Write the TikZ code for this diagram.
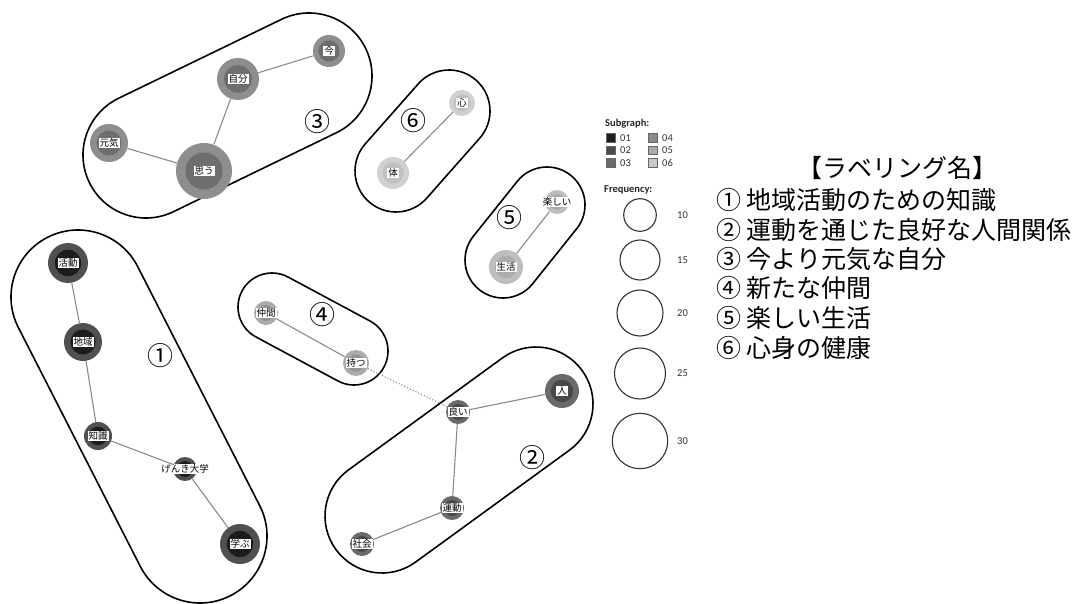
\documentclass[tikz,border=0pt]{standalone}
\usepackage{fontspec}
\setmainfont{Carlito}
\newfontfamily\jp{Noto Sans CJK JP}
\usetikzlibrary{calc}
\definecolor{o1}{HTML}{505050}\definecolor{i1}{HTML}{1C1C1C}
\definecolor{o2}{HTML}{6A6A6A}\definecolor{i2}{HTML}{484848}
\definecolor{o3}{HTML}{8E8E8E}\definecolor{i3}{HTML}{6E6E6E}
\definecolor{o4}{HTML}{ABABAB}\definecolor{i4}{HTML}{939393}
\definecolor{o5}{HTML}{BEBEBE}\definecolor{i5}{HTML}{ACACAC}
\definecolor{o6}{HTML}{D0D0D0}\definecolor{i6}{HTML}{C0C0C0}
\definecolor{s1}{HTML}{1E1E1E}\definecolor{s2}{HTML}{4A4A4A}
\definecolor{s3}{HTML}{6C6C6C}\definecolor{s4}{HTML}{8C8C8C}
\definecolor{s5}{HTML}{ABABAB}\definecolor{s6}{HTML}{C8C8C8}
\definecolor{edgegray}{HTML}{8A8A8A}
\tikzset{
  clus/.style={draw=black, line width=1.6pt},
  lab/.style={fill=white, inner sep=1pt, text=black, font=\jp\fontsize{9.5}{10}\selectfont},
  kedge/.style={draw=edgegray, line width=1.1pt},
  dedge/.style={draw=edgegray, line width=1.1pt, dotted},
  cnum/.style={font=\jp\fontsize{26}{27}\selectfont, inner sep=0pt},
  legsq/.style={draw=black!60, line width=0.5pt, minimum size=8.5pt, inner sep=0pt},
  legtxt/.style={font=\fontsize{10.5}{11}\selectfont, inner sep=0pt, anchor=west, text=black!80},
  freqc/.style={circle, draw=black!80, line width=1.1pt, inner sep=0pt},
  rtxt/.style={font=\jp\fontsize{25}{27}\selectfont, inner sep=0pt, anchor=west}
}
% keyword node: name, x, y, r, subgraph, label
\newcommand\kw[6]{%
  \node[circle, fill=o#5, minimum size=#4*2pt, inner sep=0pt] (#1) at (#2,-#3) {};
  \fill[i#5] (#1.center) circle[radius=#4*0.66pt];
  \node[lab] at (#1.center) {#6};}
% stadium: A, B, r
\newcommand\stad[3]{%
  \draw[clus] let \p1=(#1), \p2=(#2), \n1={atan2(\y2-\y1,\x2-\x1)} in
    ($(\p1)+(\n1+90:#3pt)$) -- ($(\p2)+(\n1+90:#3pt)$)
    arc[start angle=\n1+90, delta angle=-180, radius=#3pt]
    -- ($(\p1)+(\n1-90:#3pt)$)
    arc[start angle=\n1-90, delta angle=-180, radius=#3pt] -- cycle;}
\begin{document}
\begin{tikzpicture}[x=1pt,y=1pt]
\useasboundingbox[fill=white] (0,0) rectangle (1083,-604);
% cluster outlines
\coordinate (s1a) at (78,-297);  \coordinate (s1b) at (200,-536);
\coordinate (s2a) at (382,-516); \coordinate (s2b) at (536,-404);
\coordinate (s3a) at (146,-155); \coordinate (s3b) at (309,-76);
\coordinate (s4a) at (272,-307); \coordinate (s4b) at (354,-351);
\coordinate (s5a) at (503,-260); \coordinate (s5b) at (547,-205);
\coordinate (s6a) at (396,-171); \coordinate (s6b) at (449,-111);
\stad{s1a}{s1b}{67}
\stad{s2a}{s2b}{57}
\stad{s3a}{s3b}{63}
\stad{s4a}{s4b}{34}
\stad{s5a}{s5b}{38}
\stad{s6a}{s6b}{41}
% nodes
\kw{katsudo}{68}{263}{20}{1}{活動}
\kw{chiiki}{83}{342}{19}{1}{地域}
\kw{chishiki}{98}{436}{14}{1}{知識}
\kw{genkidai}{185}{469}{12}{1}{げんき大学}
\kw{manabu}{240}{544}{20}{1}{学ぶ}
\kw{yoi}{458}{412}{12}{2}{良い}
\kw{hito}{562}{391}{17}{2}{人}
\kw{undo}{452}{508}{12}{2}{運動}
\kw{shakai}{362}{544}{12}{2}{社会}
\kw{ima}{329}{51}{16}{3}{今}
\kw{jibun}{238}{79}{21}{3}{自分}
\kw{genki}{109}{143}{19}{3}{元気}
\kw{omou}{204}{171}{28}{3}{思う}
\kw{nakama}{266}{313}{12}{4}{仲間}
\kw{motsu}{356}{363}{13}{4}{持つ}
\kw{tanoshii}{557}{202}{12}{5}{楽しい}
\kw{seikatsu}{506}{267}{17}{5}{生活}
\kw{kokoro}{462}{103}{13}{6}{心}
\kw{karada}{393}{173}{16}{6}{体}
% edges
\draw[kedge] (katsudo) -- (chiiki);
\draw[kedge] (chiiki) -- (chishiki);
\draw[kedge] (chishiki) -- (genkidai);
\draw[kedge] (genkidai) -- (manabu);
\draw[kedge] (yoi) -- (hito);
\draw[kedge] (yoi) -- (undo);
\draw[kedge] (undo) -- (shakai);
\draw[kedge] (ima) -- (jibun);
\draw[kedge] (jibun) -- (omou);
\draw[kedge] (genki) -- (omou);
\draw[kedge] (nakama) -- (motsu);
\draw[kedge] (tanoshii) -- (seikatsu);
\draw[kedge] (kokoro) -- (karada);
\draw[dedge] (motsu) -- (yoi);
% cluster numbers
\node[cnum] (n1) at (160,-356) {①};
\node[cnum] (n2) at (532,-458) {②};
\node[cnum] (n3) at (317,-122) {③};
\node[cnum] (n4) at (322,-315) {④};
\node[cnum] (n5) at (509,-218) {⑤};
\node[cnum] (n6) at (413,-121) {⑥};
% legend
\node[font=\bfseries\fontsize{10.5}{11}\selectfont, anchor=west, inner sep=0pt, text=black!85] (subg) at (605,-124) {Subgraph:};
\node[legsq, fill=s1] (q1) at (610.5,-138) {};
\node[legsq, fill=s2] (q2) at (610.5,-150.5) {};
\node[legsq, fill=s3] (q3) at (610.5,-163) {};
\node[legsq, fill=s4] (q4) at (652.5,-138) {};
\node[legsq, fill=s5] (q5) at (652.5,-150.5) {};
\node[legsq, fill=s6] (q6) at (652.5,-163) {};
\node[legtxt] (t1) at (620,-138) {01};
\node[legtxt] (t2) at (620,-150.5) {02};
\node[legtxt] (t3) at (620,-163) {03};
\node[legtxt] (t4) at (662,-138) {04};
\node[legtxt] (t5) at (662,-150.5) {05};
\node[legtxt] (t6) at (662,-163) {06};
\node[font=\bfseries\fontsize{10.5}{11}\selectfont, anchor=west, inner sep=0pt, text=black!85] (freq) at (604,-190) {Frequency:};
\node[freqc, minimum size=32.6pt] (f10) at (640,-215) {};
\node[freqc, minimum size=40pt] (f15) at (640,-260) {};
\node[freqc, minimum size=46pt] (f20) at (640,-313) {};
\node[freqc, minimum size=51pt] (f25) at (640,-373.5) {};
\node[freqc, minimum size=55.4pt] (f30) at (640,-441) {};
\node[legtxt] (l10) at (677,-215) {10};
\node[legtxt] (l15) at (677,-260) {15};
\node[legtxt] (l20) at (677,-313) {20};
\node[legtxt] (l25) at (677,-373.5) {25};
\node[legtxt] (l30) at (677,-441) {30};
% labelling list
\node[font=\jp\fontsize{25}{27}\selectfont, inner sep=0pt] (title) at (897,-168) {【ラベリング名】};
\node[rtxt] (r1) at (716,-200) {① 地域活動のための知識};
\node[rtxt] (r2) at (716,-230) {② 運動を通じた良好な人間関係};
\node[rtxt] (r3) at (716,-259) {③ 今より元気な自分};
\node[rtxt] (r4) at (716,-288) {④ 新たな仲間};
\node[rtxt] (r5) at (716,-318) {⑤ 楽しい生活};
\node[rtxt] (r6) at (716,-348) {⑥ 心身の健康};
\end{tikzpicture}
\end{document}
